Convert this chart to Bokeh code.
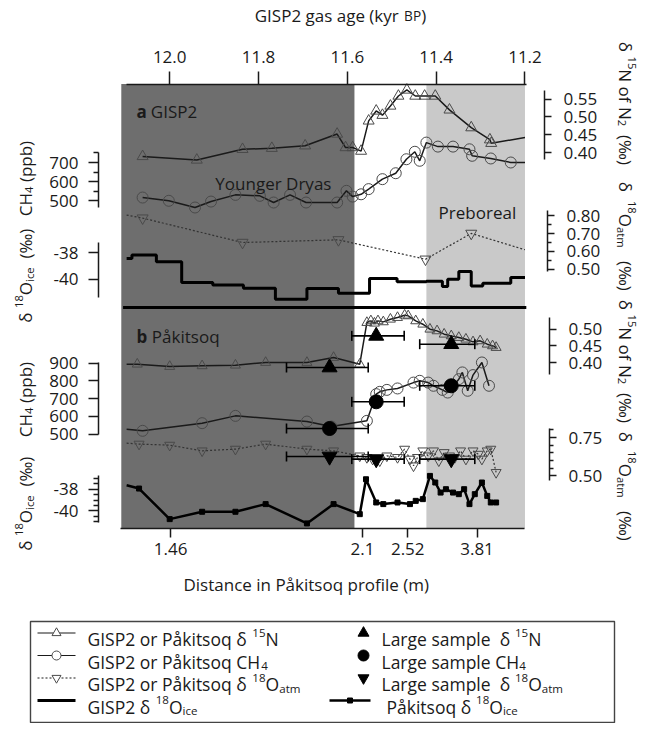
import math
from bokeh.plotting import figure
from bokeh.models import (Range1d, LinearAxis, FixedTicker, PrintfTickFormatter,
                          CustomJSTickFormatter, Whisker, TeeHead, ColumnDataSource)
from bokeh.core.properties import value
from bokeh.embed import file_html
from bokeh.resources import INLINE

# ------------------------------------------------------------------ data
period_edges = [12.109, 11.584, 11.422, 11.200]          # kyr BP (YD | transition | Preboreal)
age_ticks = [12.0, 11.8, 11.6, 11.4, 11.2]
depth_tick_labels = ["1.46", "2.1", "2.52", "3.81"]
depth_tick_ages = [11.998, 11.566, 11.464, 11.308]
clip_left_age = 12.097
clip_right_age = 11.200

# (a) GISP2
gisp_n15_age = [12.061, 11.939, 11.836, 11.770, 11.695, 11.623, 11.604, 11.588, 11.569, 11.552,
                11.535, 11.521, 11.503, 11.485, 11.466, 11.447, 11.426, 11.402, 11.370, 11.321,
                11.279, 11.276]
gisp_n15 = [0.389, 0.379, 0.409, 0.412, 0.419, 0.452, 0.414, 0.414, 0.404, 0.489,
            0.517, 0.505, 0.531, 0.559, 0.576, 0.559, 0.559, 0.559, 0.520, 0.470,
            0.436, 0.426]
gisp_n15_right = 0.442

gisp_ch4_age = [12.061, 12.002, 11.943, 11.907, 11.852, 11.797, 11.766, 11.729, 11.693, 11.623,
                11.602, 11.588, 11.569, 11.552, 11.521, 11.491, 11.467, 11.448, 11.437, 11.422,
                11.396, 11.362, 11.325, 11.319, 11.277, 11.232]
gisp_ch4 = [517, 500, 465, 496, 531, 526, 491, 531, 491, 491,
            552, 522, 534, 561, 613, 644, 717, 756, 709, 804,
            783, 783, 769, 735, 721, 700]
gisp_ch4_right = 700

gisp_o18atm_age = [12.061, 11.836, 11.620, 11.424, 11.321]
gisp_o18atm = [0.787, 0.650, 0.665, 0.556, 0.701]
gisp_o18atm_left = 0.804
gisp_o18atm_right = 0.609

gisp_ice_age = [12.097, 12.085, 12.030, 11.973, 11.903, 11.834, 11.762, 11.691, 11.620, 11.550,
                11.488, 11.422, 11.386, 11.374, 11.349, 11.321, 11.295, 11.232, 11.200]
gisp_ice = [-38.45, -38.18, -38.70, -40.25, -40.43, -40.68, -41.50, -40.70, -41.05, -39.95,
            -40.20, -40.15, -40.55, -40.00, -39.43, -40.50, -40.30, -39.88, -39.88]

# (b) Pakitsoq
pak_n15_age = [12.073, 12.000, 11.927, 11.852, 11.784, 11.691, 11.631, 11.572, 11.556, 11.547,
               11.539, 11.531, 11.519, 11.503, 11.487, 11.471, 11.463, 11.446, 11.430, 11.414,
               11.398, 11.382, 11.366, 11.349, 11.333, 11.317, 11.301, 11.285, 11.273, 11.265]
pak_n15 = [0.395, 0.388, 0.390, 0.392, 0.400, 0.400, 0.415, 0.395, 0.520, 0.525,
           0.518, 0.525, 0.522, 0.530, 0.535, 0.542, 0.540, 0.525, 0.515, 0.500,
           0.495, 0.485, 0.480, 0.475, 0.470, 0.462, 0.465, 0.455, 0.450, 0.445]
pak_n15_left = 0.395

pak_ch4_age = [12.061, 11.927, 11.852, 11.691, 11.636, 11.556, 11.535, 11.527, 11.511, 11.487,
               11.451, 11.437, 11.418, 11.406, 11.386, 11.374, 11.349, 11.341, 11.329, 11.317,
               11.297, 11.281]
pak_ch4 = [519, 562, 603, 571, 543, 575, 725, 738, 749, 757,
           790, 800, 790, 772, 749, 734, 809, 847, 744, 832,
           903, 772]
pak_ch4_left = 528

pak_o18atm_age = [12.069, 12.000, 11.927, 11.852, 11.784, 11.691, 11.631, 11.572, 11.556, 11.543,
                  11.527, 11.511, 11.487, 11.471, 11.459, 11.451, 11.442, 11.430, 11.418, 11.406,
                  11.394, 11.382, 11.370, 11.358, 11.345, 11.333, 11.317, 11.305, 11.297, 11.285,
                  11.277, 11.265]
pak_o18atm = [0.707, 0.700, 0.663, 0.674, 0.707, 0.674, 0.663, 0.630, 0.620, 0.609,
              0.598, 0.630, 0.620, 0.674, 0.609, 0.565, 0.620, 0.663, 0.630, 0.663,
              0.598, 0.652, 0.630, 0.620, 0.663, 0.609, 0.663, 0.641, 0.609, 0.663,
              0.674, 0.522]
pak_o18atm_left = 0.713

pak_ice_age = [12.069, 12.000, 11.927, 11.852, 11.784, 11.691, 11.631, 11.572, 11.558, 11.535,
               11.519, 11.487, 11.459, 11.446, 11.430, 11.414, 11.402, 11.390, 11.378, 11.362,
               11.349, 11.337, 11.325, 11.313, 11.297, 11.285, 11.277, 11.265]
pak_ice = [-37.94, -40.77, -40.09, -40.09, -39.38, -41.17, -39.38, -40.31, -37.08, -39.23,
           -39.38, -39.23, -39.38, -39.08, -38.92, -36.77, -37.38, -38.31, -38.00, -38.31,
           -38.46, -38.00, -39.38, -38.46, -37.38, -38.62, -39.23, -39.23]
pak_ice_left = -37.63

large_age = [11.640, 11.535, 11.366]
large_age_lo = [11.553, 11.472, 11.313]
large_age_hi = [11.737, 11.590, 11.437]
large_n15 = [0.385, 0.480, 0.455]
large_ch4 = [532, 682, 772]
large_o18atm = [0.626, 0.609, 0.609]

# ------------------------------------------------------------------ layout
PX_L, PX_R, PY_T, PY_B = 8.0, 652.0, 8.0, 731.0     # page pixel box of the canvas
AGE_X0, AGE_PX = 177.2, 444.1                        # page x of 12.0 kyr, px per kyr
FRAME_TOP, FRAME_BOT, SEP_Y = 91.5, 536.0, 315.0
INK = "#1a1a1a"
DARK, LIGHT = "#6e6e6e", "#c9c9c9"
MK = "#4a4a4a"
FONT = "Open Sans"
FS = 17          # general text size
FT = 17          # tick label size

Y_CAL = {
    "n15a": (0.40, 160.0, 0.55, 106.7),
    "ch4a": (500, 208.3, 700, 170.0),
    "atma": (0.50, 276.7, 0.80, 223.3),
    "icea": (-40, 286.7, -38, 260.0),
    "n15b": (0.40, 370.0, 0.50, 336.7),
    "ch4b": (500, 441.7, 900, 370.5),
    "atmb": (0.50, 483.3, 0.75, 445.0),
    "iceb": (-40, 518.3, -38, 496.7),
}


def y_range(v1, p1, v2, p2):
    s = (p2 - p1) / (v2 - v1)
    return Range1d(start=v1 + (PY_B - p1) / s, end=v1 + (PY_T - p1) / s)


age_range = Range1d(start=12.0 + (AGE_X0 - PX_L) / AGE_PX, end=12.0 - (PX_R - AGE_X0) / AGE_PX)

p = figure(width=int(PX_R - PX_L), height=int(PY_B - PY_T),
           x_range=Range1d(PX_L, PX_R), y_range=Range1d(PY_B, PY_T),
           x_axis_type=None, y_axis_type=None, toolbar_location=None,
           output_backend="svg", min_border=0, outline_line_color=None,
           background_fill_color="white", border_fill_color="white")
p.extra_x_ranges = {"age": age_range}
p.extra_y_ranges = {k: y_range(*v) for k, v in Y_CAL.items()}

# period shading
p.quad(left=[period_edges[0], period_edges[2]], right=[period_edges[1], period_edges[3]],
       bottom=FRAME_BOT, top=FRAME_TOP, fill_color=[DARK, LIGHT], line_color=None,
       x_range_name="age")
p.segment(x0=[12.105], x1=[11.197], y0=[SEP_Y], y1=[SEP_Y], line_width=3.2,
          line_color="black", x_range_name="age")

# ---------------- panel a
p.line(gisp_n15_age + [clip_right_age], gisp_n15 + [gisp_n15_right], line_color=INK,
       line_width=1.5, x_range_name="age", y_range_name="n15a")
p.scatter(gisp_n15_age, gisp_n15, marker="triangle", size=11, fill_color=None,
          line_color=MK, x_range_name="age", y_range_name="n15a")

p.line(gisp_ch4_age + [clip_right_age], gisp_ch4 + [gisp_ch4_right], line_color=INK,
       line_width=1.5, x_range_name="age", y_range_name="ch4a")
p.scatter(gisp_ch4_age, gisp_ch4, marker="circle", size=11, fill_color=None,
          line_color=MK, x_range_name="age", y_range_name="ch4a")

p.line([clip_left_age] + gisp_o18atm_age + [clip_right_age],
       [gisp_o18atm_left] + gisp_o18atm + [gisp_o18atm_right], line_color="#333333",
       line_width=1.2, line_dash="2 2", x_range_name="age", y_range_name="atma")
p.scatter(gisp_o18atm_age, gisp_o18atm, marker="inverted_triangle", size=11, fill_color=None,
          line_color=MK, x_range_name="age", y_range_name="atma")

p.step(gisp_ice_age, gisp_ice, mode="after", line_color="black", line_width=3,
       x_range_name="age", y_range_name="icea")

# ---------------- panel b
p.line([clip_left_age] + pak_n15_age, [pak_n15_left] + pak_n15, line_color=INK,
       line_width=1.5, x_range_name="age", y_range_name="n15b")
p.scatter(pak_n15_age, pak_n15, marker="triangle", size=10, fill_color=None,
          line_color=MK, x_range_name="age", y_range_name="n15b")

p.line([clip_left_age] + pak_ch4_age, [pak_ch4_left] + pak_ch4, line_color=INK,
       line_width=1.5, x_range_name="age", y_range_name="ch4b")
p.scatter(pak_ch4_age, pak_ch4, marker="circle", size=11, fill_color=None,
          line_color=MK, x_range_name="age", y_range_name="ch4b")

p.line([clip_left_age] + pak_o18atm_age, [pak_o18atm_left] + pak_o18atm, line_color="#333333",
       line_width=1.2, line_dash="2 2", x_range_name="age", y_range_name="atmb")
p.scatter(pak_o18atm_age, pak_o18atm, marker="inverted_triangle", size=10, fill_color=None,
          line_color=MK, x_range_name="age", y_range_name="atmb")

p.line([clip_left_age] + pak_ice_age, [pak_ice_left] + pak_ice, line_color="black",
       line_width=2.5, x_range_name="age", y_range_name="iceb")
p.scatter(pak_ice_age, pak_ice, marker="square", size=5, fill_color="black",
          line_color="black", x_range_name="age", y_range_name="iceb")

err = ColumnDataSource(dict(lo=large_age_lo, hi=large_age_hi, n15=large_n15,
                            ch4=large_ch4, atm=large_o18atm))
for col, rn in (("n15", "n15b"), ("ch4", "ch4b"), ("atm", "atmb")):
    w = Whisker(source=err, base=col, lower="lo", upper="hi", dimension="width",
                x_range_name="age", y_range_name=rn, line_color="black", line_width=1.6,
                upper_head=TeeHead(size=10, line_width=1.6, line_color="black"),
                lower_head=TeeHead(size=10, line_width=1.6, line_color="black"),
                level="annotation")
    p.add_layout(w)

p.scatter(large_age, large_n15, marker="triangle", size=15, color="black",
          x_range_name="age", y_range_name="n15b")
p.scatter(large_age, large_ch4, marker="circle", size=14, color="black",
          x_range_name="age", y_range_name="ch4b")
p.scatter(large_age, large_o18atm, marker="inverted_triangle", size=15, color="black",
          x_range_name="age", y_range_name="atmb")


# ---------------- axes
def style(ax, out, mout, standoff):
    ax.axis_line_width = 1.5
    ax.axis_line_color = INK
    ax.major_tick_line_width = 1.5
    ax.major_tick_line_color = INK
    ax.minor_tick_line_width = 1.3
    ax.minor_tick_line_color = INK
    ax.major_tick_in = 0
    ax.major_tick_out = out
    ax.minor_tick_in = 0
    ax.minor_tick_out = mout
    ax.major_label_standoff = standoff
    ax.major_label_text_font = FONT
    ax.major_label_text_font_size = f"{FT}px"
    ax.major_label_text_color = INK


top = LinearAxis(x_range_name="age", fixed_location=FRAME_TOP, bounds=(11.196, 12.097),
                 ticker=FixedTicker(ticks=age_ticks, minor_ticks=[]),
                 formatter=PrintfTickFormatter(format="%.1f"))
style(top, 13, 0, 8)
p.add_layout(top, "above")

bot = LinearAxis(x_range_name="age", fixed_location=FRAME_BOT, bounds=(11.2, 12.111),
                 ticker=FixedTicker(ticks=depth_tick_ages, minor_ticks=[]),
                 formatter=CustomJSTickFormatter(
                     args=dict(ages=depth_tick_ages, labels=depth_tick_labels),
                     code="for (let i = 0; i < ages.length; i++) {"
                          " if (Math.abs(ages[i] - tick) < 1e-9) return labels[i]; }"
                          " return '';"))
style(bot, 9, 0, 5)
p.add_layout(bot, "below")

V_AXES = [
    ("right", "n15a", 552, (0.38, 0.575), [0.40, 0.45, 0.50, 0.55], [], "%.2f"),
    ("right", "atma", 555, (0.485, 0.83), [0.50, 0.60, 0.70, 0.80], [0.55, 0.65, 0.75], "%.2f"),
    ("right", "n15b", 557, (0.365, 0.535), [0.40, 0.45, 0.50], [], "%.2f"),
    ("right", "atmb", 557, (0.47, 0.81), [0.50, 0.75], [0.55, 0.60, 0.65, 0.70, 0.80], "%.2f"),
    ("left", "ch4a", 106, (465, 752), [500, 600, 700], [550, 650, 750], "%d"),
    ("left", "icea", 106, (-41.4, -37.25), [-40, -38], [], "%d"),
    ("left", "ch4b", 106, (500, 905), [500, 600, 700, 800, 900], [], "%d"),
    ("left", "iceb", 106, (-41.1, -36.75), [-40, -38],
     [-41.0, -40.5, -39.5, -39.0, -38.5, -37.5, -37.0], "%d"),
]
for side, rn, loc, bnds, ticks, minor, fmt in V_AXES:
    ax = LinearAxis(y_range_name=rn, fixed_location=loc, bounds=bnds,
                    ticker=FixedTicker(ticks=ticks, minor_ticks=minor),
                    formatter=PrintfTickFormatter(format=fmt))
    if side == "left":
        style(ax, 10, 5, 10)
    else:
        style(ax, 7, 4, 12)
    p.add_layout(ax, side)

# ---------------- rich text helper (sub / superscripts)
EMW = {' ': .26, '(': .296, ')': .296, '\u2030': 1.07, '.': .266, '-': .322,
       'A': .633, 'B': .648, 'C': .631, 'D': .729, 'G': .722, 'H': .738, 'I': .319,
       'L': .519, 'N': .751, 'O': .781, 'P': .611, 'S': .547, 'Y': .560,
       'a': .556, 'b': .613, 'c': .476, 'd': .613, 'e': .561, 'f': .339, 'g': .548,
       'h': .614, 'i': .253, 'k': .525, 'l': .253, 'm': .930, 'n': .614, 'o': .604,
       'p': .613, 'q': .613, 'r': .408, 's': .477, 't': .353, 'u': .614, 'y': .501,
       '\u00e5': .556, '\u03b4': .604}
for d in "0123456789":
    EMW[d] = .572

groups = {}


def tw(s, size, bold=False):
    return sum(EMW.get(ch, .56) for ch in s) * size * (1.05 if bold else 1.0)


def rich(pieces, x, y, fs, angle=0.0, align="left"):
    th = math.radians(angle)
    dx, dy = math.cos(th), -math.sin(th)
    ux, uy = -math.sin(th), -math.cos(th)
    spec = []
    for t, kind in pieces:
        bold = kind == "bold"
        size = fs * (0.66 if kind in ("sup", "sub") else 0.8 if kind == "small" else 1.0)
        off = 0.38 * fs if kind == "sup" else -0.22 * fs if kind == "sub" else 0.0
        spec.append((t, size, off, bold))
    total = sum(tw(t, s, b) for t, s, o, b in spec)
    pos = -total / 2 if align == "center" else 0.0
    for t, s, o, b in spec:
        core = t.strip(" ")
        lead = len(t) - len(t.lstrip(" "))
        pos += tw(" " * lead, s, b)
        key = (round(s, 2), round(th, 4), b)
        g = groups.setdefault(key, dict(x=[], y=[], text=[]))
        g["x"].append(x + dx * pos + ux * o)
        g["y"].append(y + dy * pos + uy * o)
        g["text"].append(core)
        pos += tw(t[lead:], s, b)


N, SUP, SUB = "n", "sup", "sub"
rich([("GISP2 gas age (kyr ", N), ("BP", "small"), (")", N)], 348, 23, FS, align="center")
rich([("a", "bold"), (" GISP2", N)], 144, 119, FS)
rich([("Younger Dryas", N)], 281, 191, FS, align="center")
rich([("Preboreal", N)], 485, 220, FS, align="center")
rich([("b", "bold"), (" P\u00e5kitsoq", N)], 144, 344, FS)
rich([("Distance in P\u00e5kitsoq profile (m)", N)], 314, 592, FS, align="center")

ch4_t = [("CH", N), ("4", SUB), (" (ppb)", N)]
ice_t = [("\u03b4 ", N), ("18", SUP), ("O", N), ("ice", SUB), ("  (\u2030)", N)]
n15_t = [("\u03b4 ", N), ("15", SUP), ("N of N", N), ("2", SUB), ("  (\u2030)", N)]
atm_t = [("\u03b4  ", N), ("18", SUP), ("O", N), ("atm", SUB), ("   (\u2030)", N)]
for pieces, cy in ((ch4_t, 186), (ice_t, 284), (ch4_t, 407), (ice_t, 512)):
    rich(pieces, 33, cy, FS, angle=90, align="center")
for pieces, cy in ((n15_t, 110), (atm_t, 243), (n15_t, 368), (atm_t, 493)):
    rich(pieces, 633, cy, FS, angle=-90, align="center")

# ---------------- legend
LG_L, LG_R, LG_T, LG_B = 38, 622, 629, 730
ROW0, ROWS = 640.5, 22.5
rows = [ROW0 + i * ROWS for i in range(4)]
p.quad(left=[LG_L], right=[LG_R], top=[LG_T], bottom=[LG_B], fill_color="white",
       line_color="#444444", line_width=1.4)
p.segment(x0=[45] * 3, x1=[83] * 3, y0=rows[:3], y1=rows[:3], line_color=INK, line_width=1.2,
          line_dash=["solid", "solid", "2 2"])
p.segment(x0=[45], x1=[83], y0=[rows[3]], y1=[rows[3]], line_color="black", line_width=3)
p.scatter([64] * 3, rows[:3], marker=["triangle", "circle", "inverted_triangle"], size=9,
          fill_color="white", line_color=MK)
p.scatter([371] * 3, rows[:3], marker=["triangle", "circle", "inverted_triangle"], size=11,
          color="black")
p.segment(x0=[337], x1=[378], y0=[rows[3]], y1=[rows[3]], line_color="black", line_width=2.5)
p.scatter([357.5], [rows[3]], marker="square", size=5, color="black")

FL = 17.5
bl = [r + 0.36 * FL for r in rows]
rich([("GISP2 or P\u00e5kitsoq \u03b4 ", N), ("15", SUP), ("N", N)], 95, bl[0], FL)
rich([("GISP2 or P\u00e5kitsoq CH", N), ("4", SUB)], 95, bl[1], FL)
rich([("GISP2 or P\u00e5kitsoq \u03b4 ", N), ("18", SUP), ("O", N), ("atm", SUB)], 95, bl[2], FL)
rich([("GISP2 \u03b4 ", N), ("18", SUP), ("O", N), ("ice", SUB)], 95, bl[3], FL)
rich([("Large sample ", N), (" \u03b4 ", N), ("15", SUP), ("N", N)], 389, bl[0], FL)
rich([("Large sample CH", N), ("4", SUB)], 389, bl[1], FL)
rich([("Large sample ", N), (" \u03b4 ", N), ("18", SUP), ("O", N), ("atm", SUB)], 389, bl[2], FL)
rich([("P\u00e5kitsoq \u03b4 ", N), ("18", SUP), ("O", N), ("ice", SUB)], 394, bl[3], FL)

for (size, th, bold), g in groups.items():
    p.text(x="x", y="y", text="text", source=ColumnDataSource(g), angle=th,
           text_font=value(FONT), text_font_size=f"{size}px",
           text_font_style="bold" if bold else "normal", text_align="left",
           text_baseline="alphabetic", text_color=INK)

open("out.html", "w").write(file_html(p, INLINE))
